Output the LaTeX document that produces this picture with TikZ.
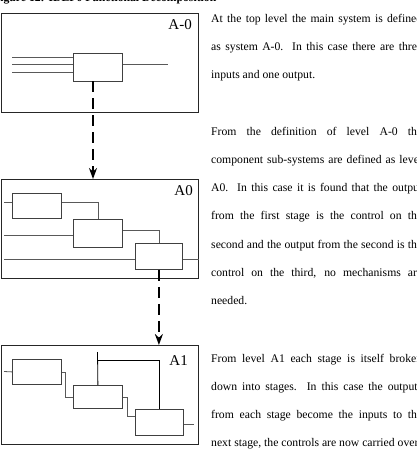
\documentclass[tikz,border=0pt]{standalone}
\usepackage{fontspec}
\setmainfont{Liberation Serif}
\usetikzlibrary{arrows.meta, positioning, calc}
\tolerance=10000
\hyphenpenalty=10000

\begin{document}
\begin{tikzpicture}[x=1pt, y=-1pt,
    frame/.style={rectangle, draw=black!85, line width=0.9pt, minimum width=197.5pt, minimum height=99pt, inner sep=0pt, anchor=north west},
    stage/.style={rectangle, draw=black!75, line width=0.8pt, inner sep=0pt, anchor=north west},
    flow/.style={black!65, line width=0.8pt},
    decomp/.style={-{Stealth[length=11pt, width=8pt]}, line width=2pt, dash pattern=on 11pt off 6pt},
    lvl/.style={anchor=base east, inner sep=0pt, font=\fontsize{15}{15}\selectfont},
    para/.style={anchor=base west, inner sep=0pt, text width=211pt, align=justify, font=\fontsize{11.7}{28.3}\selectfont},
]
\useasboundingbox (0,0) rectangle (417,453);

\node[anchor=base west, inner sep=0pt, font=\fontsize{11.7}{14}\selectfont\bfseries] (title) at (-7,1.5) {Figure 12: IDEF0 Functional Decomposition};

% level A-0
\node[frame] (am0) at (0.5,13) {};
\node[lvl] (lam0) at (192,29) {A-0};
\node[stage, minimum width=49pt, minimum height=28pt] (m0) at (73,53) {};
\foreach \y [count=\i] in {57,64,72} {
  \coordinate (in\i) at (12,\y);
  \draw[flow] (in\i) -- (in\i -| m0.west);
}
\coordinate (out0) at (168,64);
\draw[flow] (m0.east |- out0) -- (out0);

% level A0
\node[frame] (a0) at (0.5,179) {};
\node[lvl] (la0) at (193,195) {A0};
\node[stage, minimum width=49pt, minimum height=25pt] (a0s1) at (12,193) {};
\node[stage, minimum width=49pt, minimum height=28pt] (a0s2) at (73,219) {};
\node[stage, minimum width=47pt, minimum height=26pt] (a0s3) at (135,243) {};
\coordinate (a0in1) at (4,202);
\coordinate (a0in2) at (4,235);
\coordinate (a0in3) at (4,259);
\draw[flow] (a0in1) -- (a0in1 -| a0s1.west);
\draw[flow] (a0in2) -- (a0in2 -| a0s2.west);
\draw[flow] (a0in3) -- (a0in3 -| a0s3.west);
\draw[flow] (a0s1.east |- a0in1) -| (a0s2.north);
\draw[flow] (a0s2.east |- 0,230) -| (a0s3.north);
\draw[flow] (a0s3.east |- a0in3) -- (a0.east |- a0in3);

% level A1
\node[frame] (a1) at (0.5,345) {};
\node[lvl] (la1) at (188,365) {A1};
\node[stage, minimum width=49pt, minimum height=25pt] (a1s1) at (12,359) {};
\node[stage, minimum width=49pt, minimum height=23pt] (a1s2) at (73,385) {};
\node[stage, minimum width=48pt, minimum height=26pt] (a1s3) at (135,409) {};
\coordinate (a1in) at (4,371.5);
\coordinate (a1ctl) at (97.5,352);
\draw[flow] (a1in) -- (a1s1.west);
\draw[flow] (a1s1.east) -- ++(4,0) |- (a1s2.west);
\draw[flow] (a1s2.east) -- ++(5,0) |- (a1s3.west |- 0,416);
\draw[flow] (a1s3.east |- 0,424) -- ++(10,0);
\draw[flow, black] (a1s2.north) -- (a1ctl);
\draw[flow, black] (a1s2.north |- 0,360) -| (a1s3.north);

% decomposition arrows
\coordinate (d0) at (93,81);
\draw[decomp] (d0) -- (d0 |- a0.north);
\draw[decomp] (a0s3.south) -- (a0s3.south |- a1.north);

% text column
\node[para] (p1) at (211,22) {At the top level the main system is defined\linebreak as system A-0.\ \ In this case there are three\linebreak inputs and one output.};
\node[para] (p2) at (211,135) {From the definition of level A-0 the\linebreak component sub-systems are defined as level\linebreak A0.\ \ In this case it is found that the output\linebreak from the first stage is the control on the\linebreak second and the output from the second is the\linebreak control on the third, no mechanisms are\linebreak needed.};
\node[para] (p3) at (211,362) {\parfillskip=0pt From level A1 each stage is itself broken\linebreak down into stages.\ \ In this case the outputs\linebreak from each stage become the inputs to the\linebreak next stage, the controls are now carried over};
\end{tikzpicture}
\end{document}
